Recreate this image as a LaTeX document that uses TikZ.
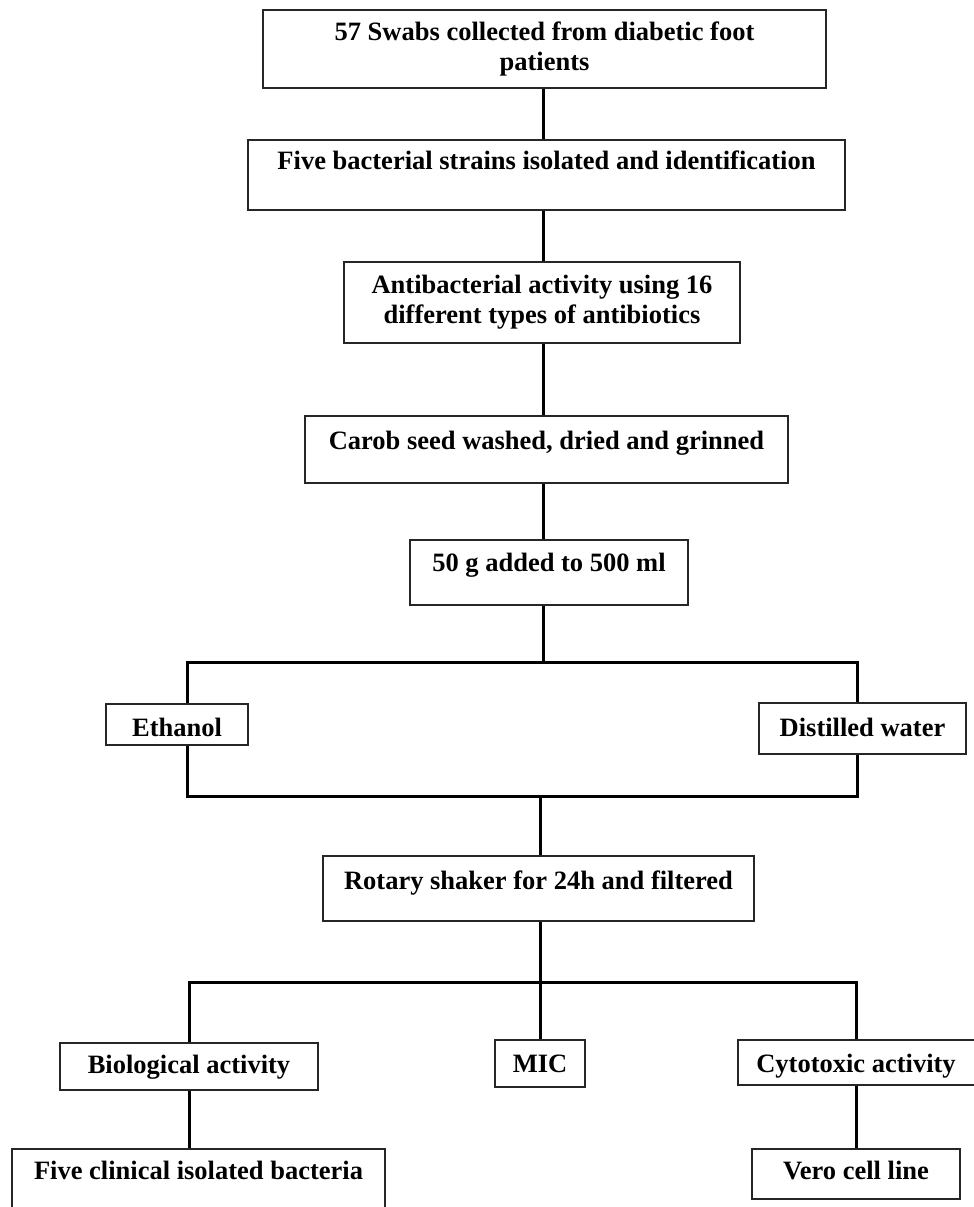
\documentclass[tikz,border=0pt]{standalone}
\usepackage{fontspec}
\setmainfont{Liberation Serif}
\usetikzlibrary{positioning,calc}

\begin{document}
\begin{tikzpicture}[
  x=1pt,y=-1pt,
  font=\bfseries\fontsize{26.5}{30}\selectfont,
  blk/.style={draw=black!85,line width=2pt,inner xsep=0pt,inner ysep=0pt,
              align=center,anchor=north},
  link/.style={line width=3pt,black},
]
  \useasboundingbox (0,0) rectangle (974,1207);

  % main column
  \node[blk,minimum width=563pt,minimum height=78pt] (swabs) at (544.5,9)
    {57 Swabs collected from diabetic foot\\patients};
  \node[blk,minimum width=597pt,text height=29pt,text depth=41pt] (strains) at (546.5,139)
    {Five bacterial strains isolated and identification};
  \node[blk,minimum width=396pt,minimum height=81pt] (antib) at (542,261)
    {Antibacterial activity using 16\\different types of antibiotics};
  \node[blk,minimum width=483pt,text height=33pt,text depth=34pt] (carob) at (546.5,415)
    {Carob seed washed, dried and grinned};
  \node[blk,minimum width=278pt,text height=31pt,text depth=34pt] (extract) at (549,539)
    {50 g added to 500 ml};

  % solvents
  \node[blk,minimum width=142pt,text height=32pt,text depth=9pt] (ethanol) at (177,703)
    {Ethanol};
  \node[blk,minimum width=207pt,text height=33pt,text depth=18pt] (water) at (862.5,702)
    {Distilled water};

  \node[blk,minimum width=431pt,text height=33pt,text depth=32pt] (shaker) at (538.5,855)
    {Rotary shaker for 24h and filtered};

  % tests
  \node[blk,minimum width=258pt,text height=30pt,text depth=17pt] (bio) at (189,1042)
    {Biological activity};
  \node[blk,minimum width=90pt,text height=32pt,text depth=15pt] (mic) at (540,1039)
    {MIC};
  \node[blk,minimum width=237pt,text height=32pt,text depth=13pt] (cyto) at (856,1039)
    {Cytotoxic activity};
  \node[blk,minimum width=373pt,text height=30pt,text depth=45pt] (clinical) at (198.5,1148)
    {Five clinical isolated bacteria};
  \node[blk,minimum width=208pt,text height=30pt,text depth=20pt] (vero) at (856,1148)
    {Vero cell line};

  \coordinate (spine) at (543,0);
  \coordinate (split) at (543,662);
  \coordinate (merge) at (540,796);
  \coordinate (fan) at (540,982);

  \foreach \a/\b in {swabs/strains,strains/antib,antib/carob,carob/extract}
    \draw[link] (spine |- \a.south) -- (spine |- \b.north);
  \draw[link] (spine |- extract.south) -- (split);
  \draw[link] ([xshift=10pt]ethanol.north) |- (split) -| ([xshift=-5.5pt]water.north);
  \draw[link] ([xshift=10pt]ethanol.south) |- (merge) -| ([xshift=-5.5pt]water.south);
  \draw[link] (merge) -- (merge |- shaker.north);
  \draw[link] (fan |- shaker.south) -- (fan) -- (mic.north);
  \draw[link] (bio.north) |- (fan) -| (cyto.north);
  \draw[link] (bio.south) -- (bio.south |- clinical.north);
  \draw[link] (cyto.south) -- (vero.north);
\end{tikzpicture}
\end{document}
